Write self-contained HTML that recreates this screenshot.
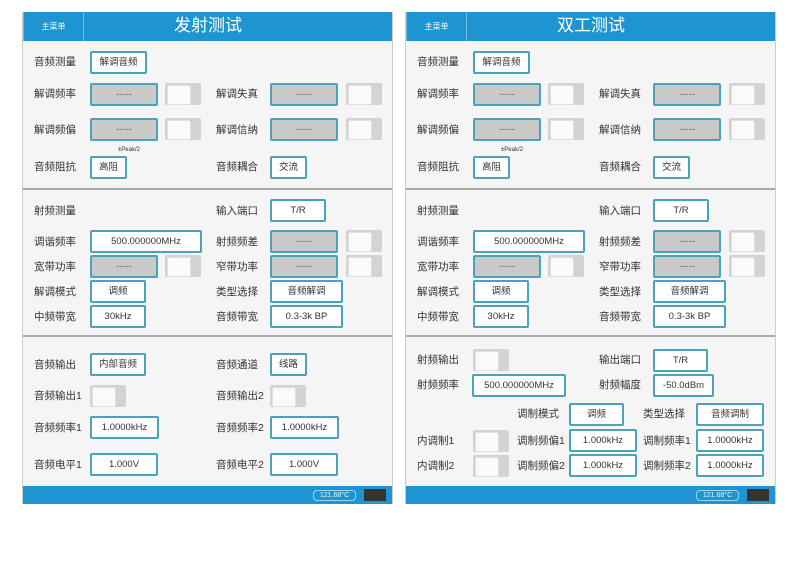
<!DOCTYPE html>
<html><head><meta charset="utf-8"><style>
*{margin:0;padding:0;box-sizing:border-box}
body{width:790px;height:582px;background:#fff;position:relative;overflow:hidden;font-family:"Liberation Sans","Noto Sans CJK SC",sans-serif;}
.p{position:absolute;top:12px;width:371px;height:492px;background:#f5f5f5;border-right:1px solid #ccc;border-left:1px solid #ccc}
.bar{position:absolute;left:0;top:0;width:100%;height:29px;background:#1e94d0}
.menu{position:absolute;left:0;top:0;width:61px;height:29px;border-right:1px solid #6fbbe2;border-left:1px solid #6fbbe2;color:#fff;font-size:8px;line-height:29px;text-align:center}
.title{position:absolute;left:61px;width:248px;top:0;height:29px;line-height:27px;text-align:center;color:#fff;font-size:17px}
.div{position:absolute;left:0;width:100%;height:2px;background:#aaa}
.l{position:absolute;font-size:10.5px;color:#333;line-height:12px;white-space:nowrap}
.b{position:absolute;height:23px;border:2px solid #4aa3bd;background:#fff;border-radius:2px;font-size:9.5px;color:#333;text-align:center;line-height:19px;white-space:nowrap}
.g{background:#c9c9c9;color:#666}
.t{position:absolute;width:36px;height:22px;background:#d3d3d3;border-radius:2px}
.t::before{content:"";position:absolute;left:2px;top:2px;width:22px;height:18px;background:#fafafa;border:1px solid #e0e0e0;border-radius:2px}
.bot{position:absolute;left:0;top:474px;width:100%;height:18px;background:#1e94d0}
.pill{position:absolute;left:290px;top:4px;width:43px;height:11px;border:1px solid #9dd3ee;border-radius:4px;color:#dff;font-size:7px;line-height:9px;text-align:center}
.dk{position:absolute;left:341px;top:3px;width:22px;height:12px;background:#333}
</style></head><body>

<div class="p" style="left:22px">
<div class="bar"><div class="menu">主菜单</div><div class="title">发射测试</div></div>
<div class="l" style="left:11px;top:44px">音频测量</div><div class="b" style="left:67px;top:39px;width:57px">解调音频</div>
<div class="l" style="left:11px;top:76px">解调频率</div><div class="b g" style="left:67px;top:71px;width:68px">-----</div><div class="t" style="left:142px;top:71px"></div>
<div class="l" style="left:193px;top:76px">解调失真</div><div class="b g" style="left:247px;top:71px;width:68px">-----</div><div class="t" style="left:323px;top:71px"></div>
<div class="l" style="left:11px;top:112px">解调频偏</div><div class="b g" style="left:67px;top:106px;width:68px">-----</div><div class="t" style="left:142px;top:106px"></div>
<div class="l" style="left:193px;top:112px">解调信纳</div><div class="b g" style="left:247px;top:106px;width:68px">-----</div><div class="t" style="left:323px;top:106px"></div>
<div class="l" style="left:95px;top:132px;font-size:6px">±Peak/2</div>
<div class="l" style="left:11px;top:149px">音频阻抗</div><div class="b" style="left:67px;top:144px;width:37px">高阻</div>
<div class="l" style="left:193px;top:149px">音频耦合</div><div class="b" style="left:247px;top:144px;width:37px">交流</div>
<div class="div" style="top:176px"></div>
<div class="l" style="left:11px;top:193px">射频测量</div>
<div class="l" style="left:193px;top:193px">输入端口</div><div class="b" style="left:247px;top:187px;width:56px">T/R</div>
<div class="l" style="left:11px;top:224px">调谐频率</div><div class="b" style="left:67px;top:218px;width:112px">500.000000MHz</div>
<div class="l" style="left:193px;top:224px">射频频差</div><div class="b g" style="left:247px;top:218px;width:68px">-----</div><div class="t" style="left:323px;top:218px"></div>
<div class="l" style="left:11px;top:249px">宽带功率</div><div class="b g" style="left:67px;top:243px;width:68px">-----</div><div class="t" style="left:142px;top:243px"></div>
<div class="l" style="left:193px;top:249px">窄带功率</div><div class="b g" style="left:247px;top:243px;width:68px">-----</div><div class="t" style="left:323px;top:243px"></div>
<div class="l" style="left:11px;top:274px">解调模式</div><div class="b" style="left:67px;top:268px;width:56px">调频</div>
<div class="l" style="left:193px;top:274px">类型选择</div><div class="b" style="left:247px;top:268px;width:73px">音频解调</div>
<div class="l" style="left:11px;top:299px">中频带宽</div><div class="b" style="left:67px;top:293px;width:56px">30kHz</div>
<div class="l" style="left:193px;top:299px">音频带宽</div><div class="b" style="left:247px;top:293px;width:73px">0.3-3k BP</div>
<div class="div" style="top:323px"></div>
<div class="l" style="left:11px;top:347px">音频输出</div><div class="b" style="left:67px;top:341px;width:56px">内部音频</div>
<div class="l" style="left:193px;top:347px">音频通道</div><div class="b" style="left:247px;top:341px;width:37px">线路</div>
<div class="l" style="left:11px;top:378px">音频输出1</div><div class="t" style="left:67px;top:373px"></div>
<div class="l" style="left:193px;top:378px">音频输出2</div><div class="t" style="left:247px;top:373px"></div>
<div class="l" style="left:11px;top:410px">音频频率1</div><div class="b" style="left:67px;top:404px;width:69px">1.0000kHz</div>
<div class="l" style="left:193px;top:410px">音频频率2</div><div class="b" style="left:247px;top:404px;width:69px">1.0000kHz</div>
<div class="l" style="left:11px;top:447px">音频电平1</div><div class="b" style="left:67px;top:441px;width:68px">1.000V</div>
<div class="l" style="left:193px;top:447px">音频电平2</div><div class="b" style="left:247px;top:441px;width:68px">1.000V</div>
<div class="bot"><div class="pill">121.68°C</div><div class="dk"></div></div>
</div>

<div class="p" style="left:405px">
<div class="bar"><div class="menu">主菜单</div><div class="title">双工测试</div></div>
<div class="l" style="left:11px;top:44px">音频测量</div><div class="b" style="left:67px;top:39px;width:57px">解调音频</div>
<div class="l" style="left:11px;top:76px">解调频率</div><div class="b g" style="left:67px;top:71px;width:68px">-----</div><div class="t" style="left:142px;top:71px"></div>
<div class="l" style="left:193px;top:76px">解调失真</div><div class="b g" style="left:247px;top:71px;width:68px">-----</div><div class="t" style="left:323px;top:71px"></div>
<div class="l" style="left:11px;top:112px">解调频偏</div><div class="b g" style="left:67px;top:106px;width:68px">-----</div><div class="t" style="left:142px;top:106px"></div>
<div class="l" style="left:193px;top:112px">解调信纳</div><div class="b g" style="left:247px;top:106px;width:68px">-----</div><div class="t" style="left:323px;top:106px"></div>
<div class="l" style="left:95px;top:132px;font-size:6px">±Peak/2</div>
<div class="l" style="left:11px;top:149px">音频阻抗</div><div class="b" style="left:67px;top:144px;width:37px">高阻</div>
<div class="l" style="left:193px;top:149px">音频耦合</div><div class="b" style="left:247px;top:144px;width:37px">交流</div>
<div class="div" style="top:176px"></div>
<div class="l" style="left:11px;top:193px">射频测量</div>
<div class="l" style="left:193px;top:193px">输入端口</div><div class="b" style="left:247px;top:187px;width:56px">T/R</div>
<div class="l" style="left:11px;top:224px">调谐频率</div><div class="b" style="left:67px;top:218px;width:112px">500.000000MHz</div>
<div class="l" style="left:193px;top:224px">射频频差</div><div class="b g" style="left:247px;top:218px;width:68px">-----</div><div class="t" style="left:323px;top:218px"></div>
<div class="l" style="left:11px;top:249px">宽带功率</div><div class="b g" style="left:67px;top:243px;width:68px">-----</div><div class="t" style="left:142px;top:243px"></div>
<div class="l" style="left:193px;top:249px">窄带功率</div><div class="b g" style="left:247px;top:243px;width:68px">-----</div><div class="t" style="left:323px;top:243px"></div>
<div class="l" style="left:11px;top:274px">解调模式</div><div class="b" style="left:67px;top:268px;width:56px">调频</div>
<div class="l" style="left:193px;top:274px">类型选择</div><div class="b" style="left:247px;top:268px;width:73px">音频解调</div>
<div class="l" style="left:11px;top:299px">中频带宽</div><div class="b" style="left:67px;top:293px;width:56px">30kHz</div>
<div class="l" style="left:193px;top:299px">音频带宽</div><div class="b" style="left:247px;top:293px;width:73px">0.3-3k BP</div>
<div class="div" style="top:323px"></div>
<div class="l" style="left:11px;top:342px">射频输出</div><div class="t" style="left:67px;top:337px"></div>
<div class="l" style="left:193px;top:342px">输出端口</div><div class="b" style="left:247px;top:337px;width:55px">T/R</div>
<div class="l" style="left:11px;top:367px">射频频率</div><div class="b" style="left:66px;top:362px;width:94px">500.000000MHz</div>
<div class="l" style="left:193px;top:367px">射频幅度</div><div class="b" style="left:247px;top:362px;width:61px">-50.0dBm</div>
<div class="l" style="left:111px;top:396px">调制模式</div><div class="b" style="left:163px;top:391px;width:55px">调频</div>
<div class="l" style="left:237px;top:396px">类型选择</div><div class="b" style="left:290px;top:391px;width:68px">音频调制</div>
<div class="l" style="left:11px;top:423px">内调制1</div><div class="t" style="left:67px;top:418px"></div>
<div class="l" style="left:111px;top:423px">调制频偏1</div><div class="b" style="left:163px;top:417px;width:68px">1.000kHz</div>
<div class="l" style="left:237px;top:423px">调制频率1</div><div class="b" style="left:290px;top:417px;width:68px">1.0000kHz</div>
<div class="l" style="left:11px;top:448px">内调制2</div><div class="t" style="left:67px;top:443px"></div>
<div class="l" style="left:111px;top:448px">调制频偏2</div><div class="b" style="left:163px;top:442px;width:68px">1.000kHz</div>
<div class="l" style="left:237px;top:448px">调制频率2</div><div class="b" style="left:290px;top:442px;width:68px">1.0000kHz</div>
<div class="bot"><div class="pill">121.68°C</div><div class="dk"></div></div>
</div>
</body></html>
